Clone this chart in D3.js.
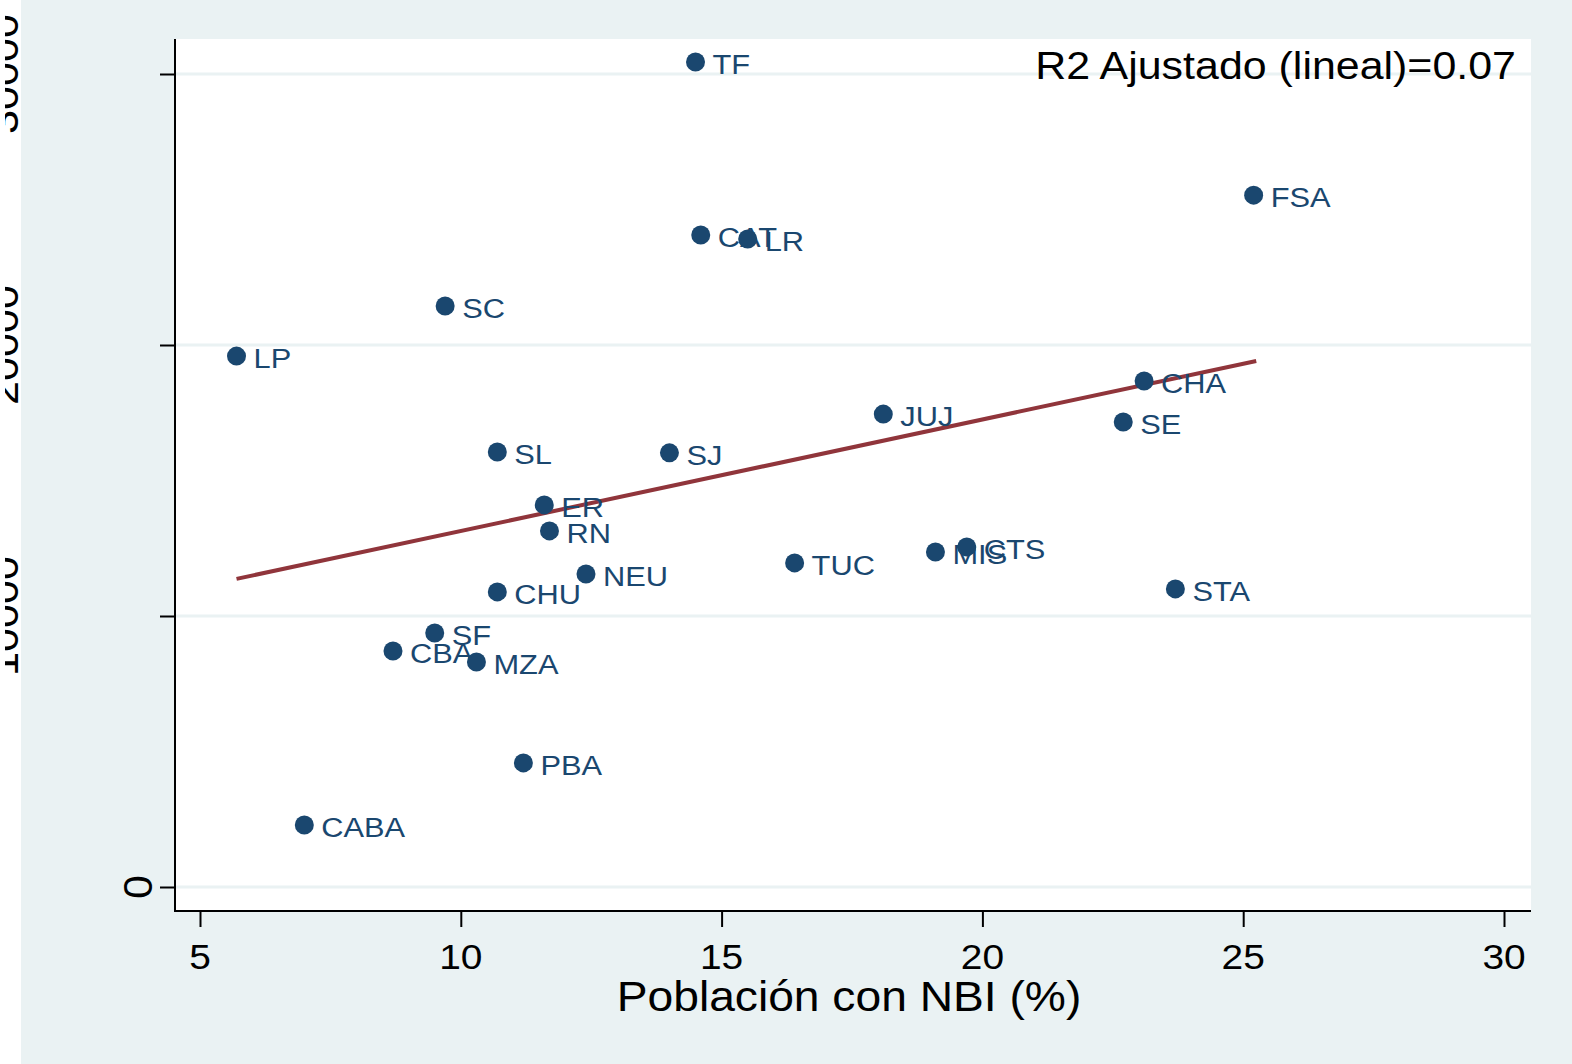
<!DOCTYPE html>
<html>
<head>
<meta charset="utf-8">
<script src="https://cdn.jsdelivr.net/npm/d3@7"></script>
<style>
  body { margin: 0; background: #ffffff; }
  svg { display: block; font-family: "Liberation Sans", Arial, sans-serif; }
</style>
</head>
<body>
<div id="chart"></div>
<script>
// Data
var provincias = ["TF", "FSA", "CAT", "LR", "SC", "LP", "CHA", "JUJ", "SE", "SL", "SJ", "ER",
                  "RN", "MIS", "CTS", "TUC", "NEU", "STA", "CHU", "SF", "CBA", "MZA", "PBA", "CABA"];
var nbi = [14.5, 25.2, 14.6, 15.5, 9.7, 5.7, 23.1, 18.1, 22.7, 10.7, 14.0, 11.6,
           11.7, 19.1, 19.7, 16.4, 12.4, 23.7, 10.7, 9.5, 8.7, 10.3, 11.2, 7.0];
var valor = [30440, 25530, 24060, 23910, 21440, 19590, 18670, 17450, 17160, 16050, 16020, 14100,
             13140, 12360, 12550, 11960, 11550, 11000, 10890, 9370, 8710, 8300, 4580, 2290];
var fitX = [5.7, 25.25];
var fitY = [11370, 19410];
var xTicks = [5, 10, 15, 20, 25, 30];
var yTicks = [0, 10000, 20000, 30000];
var r2Text = "R2 Ajustado (lineal)=0.07";
var xTitle = "Población con NBI (%)";

var W = 1572, H = 1064;
var plot = {left: 175, right: 1531, top: 39, bottom: 911};
var navy = "#1a476f", maroon = "#90353b", bg = "#eaf2f3";
var stretch = 1.08;

var svg = d3.select("#chart")
  .append("svg")
    .attr("width", W)
    .attr("height", H);

// the picture is cut a few pixels in from the left edge
svg.append("clipPath").attr("id", "cut")
  .append("rect").attr("x", 5).attr("y", 0).attr("width", W).attr("height", H);

// background, with the thin white strip at the left
svg.append("rect").attr("width", W).attr("height", H).attr("fill", bg);
svg.append("rect").attr("width", 21).attr("height", H).attr("fill", "#ffffff");

// plot region
svg.append("rect")
  .attr("x", plot.left).attr("y", plot.top)
  .attr("width", plot.right - plot.left).attr("height", plot.bottom - plot.top)
  .attr("fill", "#ffffff");

var x = d3.scaleLinear().domain([5, 30]).range([200, 1504]);
var y = d3.scaleLinear().domain([0, 30000]).range([887, 74]);

// gridlines
svg.append("g")
  .selectAll("line")
  .data(yTicks)
  .enter()
  .append("line")
    .attr("x1", plot.left).attr("x2", plot.right)
    .attr("y1", function(d) { return y(d); })
    .attr("y2", function(d) { return y(d); })
    .attr("stroke", bg)
    .attr("stroke-width", 3);

// Y axis
var yAxis = svg.append("g")
  .attr("transform", "translate(" + plot.left + ",0)")
  .call(d3.axisLeft(y).tickValues(yTicks).tickSize(15).tickFormat(""));
yAxis.select(".domain").remove();
yAxis.selectAll(".tick line").attr("stroke", "#000").attr("stroke-width", 2);

svg.append("line")
  .attr("x1", plot.left).attr("x2", plot.left)
  .attr("y1", plot.top).attr("y2", plot.bottom + 1)
  .attr("stroke", "#000").attr("stroke-width", 2);

// rotated y tick labels (the 0 sits next to the axis, the rest at the cut edge)
svg.append("g")
  .attr("clip-path", "url(#cut)")
  .selectAll("text")
  .data(yTicks)
  .enter()
  .append("text")
    .attr("transform", function(d) {
      var bx = d === 0 ? 152 : 18;
      return "translate(" + bx + "," + y(d) + ") rotate(-90) scale(" + stretch + ",1)";
    })
    .attr("text-anchor", "middle")
    .attr("font-size", 40)
    .attr("fill", "#000")
    .text(function(d) { return d; });

// X axis
var xAxis = svg.append("g")
  .attr("transform", "translate(0," + plot.bottom + ")")
  .call(d3.axisBottom(x).tickValues(xTicks).tickSize(16).tickFormat(""));
xAxis.select(".domain").remove();
xAxis.selectAll(".tick line").attr("stroke", "#000").attr("stroke-width", 2);

svg.append("line")
  .attr("x1", plot.left - 1).attr("x2", plot.right)
  .attr("y1", plot.bottom).attr("y2", plot.bottom)
  .attr("stroke", "#000").attr("stroke-width", 2);

svg.append("g")
  .selectAll("text")
  .data(xTicks)
  .enter()
  .append("text")
    .attr("transform", function(d) {
      return "translate(" + x(d) + ",969) scale(" + stretch + ",1)";
    })
    .attr("text-anchor", "middle")
    .attr("font-size", 36)
    .attr("fill", "#000")
    .text(function(d) { return d; });

// X axis title
svg.append("text")
  .attr("transform", "translate(849,1011) scale(1.1,1)")
  .attr("text-anchor", "middle")
  .attr("font-size", 42)
  .attr("fill", "#000")
  .text(xTitle);

// fit line
svg.append("line")
  .attr("x1", x(fitX[0])).attr("y1", y(fitY[0]))
  .attr("x2", x(fitX[1])).attr("y2", y(fitY[1]))
  .attr("stroke", maroon)
  .attr("stroke-width", 4);

// points
var pts = provincias.map(function(p, i) { return {name: p, x: nbi[i], y: valor[i]}; });

svg.append("g")
  .selectAll("circle")
  .data(pts)
  .enter()
  .append("circle")
    .attr("cx", function(d) { return x(d.x); })
    .attr("cy", function(d) { return y(d.y); })
    .attr("r", 9.5)
    .attr("fill", navy);

// point labels
svg.append("g")
  .selectAll("text")
  .data(pts)
  .enter()
  .append("text")
    .attr("transform", function(d) {
      return "translate(" + (x(d.x) + 17) + "," + (y(d.y) + 12) + ") scale(1.1,1)";
    })
    .attr("font-size", 28)
    .attr("fill", navy)
    .text(function(d) { return d.name; });

// R2 note
svg.append("text")
  .attr("transform", "translate(1516,79) scale(1.13,1)")
  .attr("text-anchor", "end")
  .attr("font-size", 38)
  .attr("fill", "#000")
  .text(r2Text);
</script>
</body>
</html>
